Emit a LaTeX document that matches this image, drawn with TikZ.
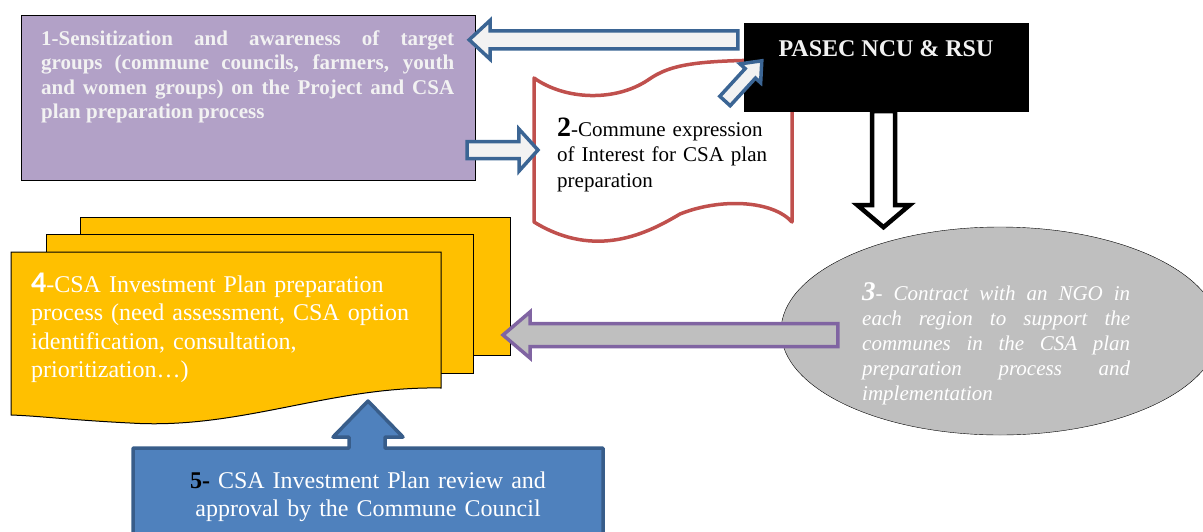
\documentclass[tikz,border=0pt]{standalone}
\usepackage{fontspec}
\setmainfont{Liberation Serif}
\newfontfamily\digitfont{Carlito}
\usetikzlibrary{calc,shapes.geometric}
\tolerance=10000
\hbadness=10000

\definecolor{lilac}{HTML}{B2A1C7}
\definecolor{steel}{HTML}{3B6594}
\definecolor{paper}{HTML}{F2F2F2}
\definecolor{brick}{HTML}{C0504D}
\definecolor{amber}{HTML}{FFC000}
\definecolor{ash}{HTML}{BFBFBF}
\definecolor{plum}{HTML}{8064A2}
\definecolor{sky}{HTML}{4F81BD}
\definecolor{deepsky}{HTML}{385D8A}

\newcommand{\blockarrow}[6]{%
  \coordinate (bah) at ($#3!#6pt!#2$);
  \draw[#1] ($#2!#4pt!90:#3$) -- ($(bah)!#4pt!90:#3$) -- ($(bah)!#5pt!90:#3$) -- #3
    -- ($(bah)!#5pt!-90:#3$) -- ($(bah)!#4pt!-90:#3$) -- ($#2!#4pt!-90:#3$) -- cycle;
}

\begin{document}
\begin{tikzpicture}[x=1pt, y=-1pt,
    bluearrow/.style={draw=steel, fill=paper, line width=3.5pt},
    downarrow/.style={draw=black, fill=white, line width=4.5pt},
    greyarrow/.style={draw=plum, fill=ash, line width=3.5pt},
    page/.style={draw=black, fill=amber, line width=1pt}]
    \useasboundingbox (0,0) rectangle (1203,531);

    \node[draw, fill=lilac, minimum width=454pt, minimum height=165pt] (sens) at (248,97.5) {};
    \node[anchor=base west, text width=413pt, align=justify, inner sep=0pt, text=paper,
        font=\fontsize{21}{24.5}\selectfont\bfseries] (senstxt) at (41,45)
        {1-Sensitization and awareness of target\linebreak groups (commune councils, farmers, youth\linebreak and women groups) on the Project and CSA\linebreak plan preparation process};

    \draw[brick, fill=white, line width=3.5pt, line join=round] (534,78)
        .. controls (565,100) and (615,102) .. (648,80)
        .. controls (672,63) and (700,60) .. (792,60) -- (792,222)
        .. controls (772,200) and (720,198) .. (680,214)
        .. controls (648,233) and (596,260) .. (534,222) -- cycle;
    \node[anchor=base west, text width=215pt, align=left, inner sep=0pt,
        font=\fontsize{21}{25.5}\selectfont] (eoi) at (557,136)
        {{\fontsize{28}{25.5}\selectfont\bfseries 2}-Commune expression\\of Interest for CSA plan\\preparation};

    \node[draw, fill=black, minimum width=284pt, minimum height=88pt] (pasec) at (886,67) {};
    \node[anchor=base, inner sep=0pt, text=paper, font=\fontsize{24}{28}\selectfont\bfseries] (pasectxt) at (886,56) {PASEC NCU \& RSU};

    \node[ellipse, draw, fill=ash, minimum width=438pt, minimum height=208pt, inner sep=0pt] (ngo) at (1000,331) {};
    \node[anchor=base west, text width=268pt, align=justify, inner sep=0pt, text=white,
        font=\fontsize{21}{25}\selectfont\itshape] (ngotxt) at (862,300)
        {{\fontsize{27}{25}\selectfont\bfseries 3}- Contract with an NGO in\linebreak each region to support the\linebreak communes in the CSA plan\linebreak preparation process and\linebreak implementation};

    \draw[page] (80,217) rectangle (510,355);
    \draw[page] (46,234) rectangle (473,373);
    \draw[page] (11,252) -- (441,252) -- (441,388)
        .. controls (330,386) and (240,430) .. (130,423)
        .. controls (70,420) and (40,416) .. (11,415) -- cycle;
    \node[anchor=base west, text width=420pt, align=left, inner sep=0pt, text=white,
        font=\fontsize{24}{28.5}\selectfont] (plan) at (31,292)
        {{\digitfont\fontsize{30}{28.5}\selectfont\bfseries 4}-CSA Investment Plan preparation\\process (need assessment, CSA option\\identification, consultation,\\prioritization…)};

    \draw[fill=sky, draw=deepsky, line width=3.5pt, line join=round] (133,570) -- (133,448)
        -- (349,448) -- (349,437) -- (333,437) -- (368,401) -- (403,437) -- (385,437)
        -- (385,448) -- (603,448) -- (603,570) -- cycle;
    \node[anchor=base, text width=470pt, align=center, inner sep=0pt, text=white,
        font=\fontsize{24}{28}\selectfont] (review) at (368,488)
        {\textcolor{black}{\textbf{5-}} CSA Investment Plan review and\\approval by the Commune Council};

    \coordinate (a1t) at ($(pasec.north west)+(-6,17)$);
    \coordinate (a1h) at ($(sens.north east)+(-6,25)$);
    \blockarrow{bluearrow}{(a1t)}{(a1h)}{9}{19.5}{21}

    \coordinate (a2t) at ($(sens.south east)+(-8,-30)$);
    \coordinate (a2h) at (538,150);
    \blockarrow{bluearrow}{(a2t)}{(a2h)}{8.5}{21}{19}

    \coordinate (a3t) at (725,101);
    \coordinate (a3h) at ($(pasec.north west)+(18,38)$);
    \blockarrow{bluearrow}{(a3t)}{(a3h)}{7}{14}{17}

    \coordinate (a4t) at ($(pasec.south)+(-2.5,0)$);
    \coordinate (a4h) at ($(pasec.south)+(-2.5,116)$);
    \blockarrow{downarrow}{(a4t)}{(a4h)}{11.5}{26}{22}

    \coordinate (a5t) at ($(ngo.west)+(57,4)$);
    \coordinate (a5h) at (503,335);
    \blockarrow{greyarrow}{(a5t)}{(a5h)}{11.5}{23}{27}
\end{tikzpicture}
\end{document}
